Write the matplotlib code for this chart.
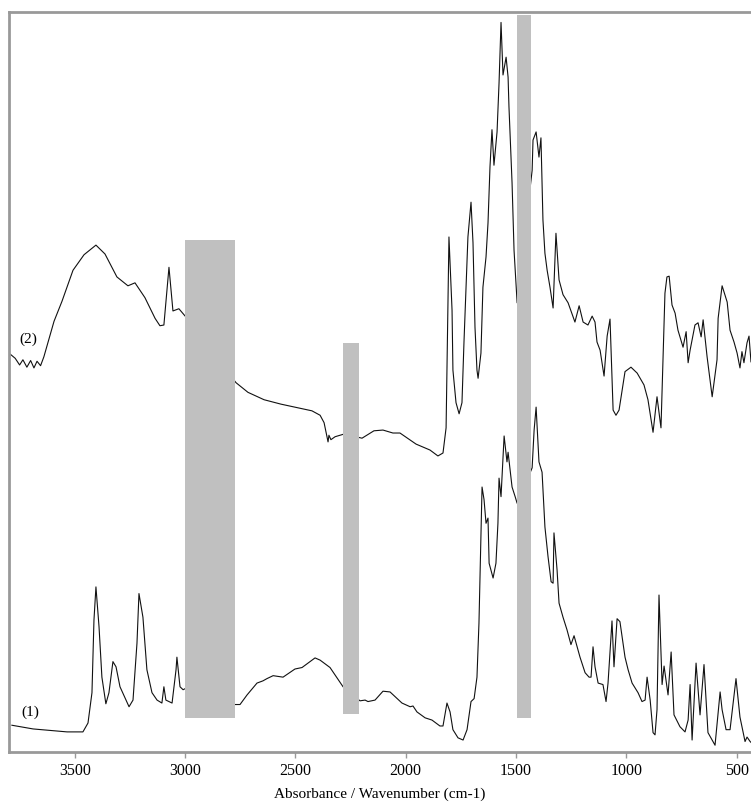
import matplotlib
matplotlib.use("Agg")
import matplotlib.pyplot as plt

# trace (2): wavenumber (cm-1) and absorbance (arbitrary units, axis = 0..100)
wn2 = [3794, 3770, 3750, 3735, 3717, 3700, 3685, 3671, 3655, 3640, 3594, 3558, 3508,
       3458, 3404, 3363, 3309, 3259, 3227,
       3182, 3136, 3114, 3096, 3073, 3055, 3028, 2991, 2880, 2769, 2715, 2642, 2565,
       2502, 2425, 2388, 2370, 2352, 2348, 2339, 2320, 2275, 2240, 2198, 2144, 2103,
       2058, 2026, 1953, 1890, 1854, 1831, 1817, 1813, 1804, 1790, 1786, 1772, 1758,
       1745, 1736, 1718, 1704, 1695, 1686, 1677, 1672, 1659, 1650, 1636, 1627, 1618,
       1609, 1600, 1586, 1577, 1568, 1559, 1545, 1536, 1532, 1518, 1509, 1495, 1460,
       1427, 1423, 1409, 1396, 1387, 1378, 1369, 1359, 1346, 1332, 1319, 1305, 1287,
       1264, 1233, 1214, 1196, 1174, 1155, 1142, 1133, 1119, 1101, 1087, 1074, 1060,
       1047, 1033, 1006, 979, 951, 920, 902, 879, 861, 843, 825, 816, 806, 793, 779,
       766, 743, 729, 720, 711, 689, 675, 661, 652, 634, 611, 589, 584, 566, 543, 530,
       512, 498, 485, 476, 467, 453, 444, 435, 425]
ab2 = [53.8, 53.2, 52.3, 53.0, 52.0, 52.9, 51.9, 52.8, 52.2, 53.4, 58.2, 60.9, 65.1,
       67.2, 68.5, 67.3, 64.2, 63.0, 63.4,
       61.4, 58.6, 57.6, 57.7, 65.5, 59.6, 59.9, 58.6, 54.0, 49.9, 48.6, 47.6, 47.0,
       46.6, 46.1, 45.5, 44.5, 41.9, 42.8, 42.2, 42.6, 43.0, 42.7, 42.4, 43.4, 43.5,
       43.1, 43.1, 41.6, 40.8, 40.0, 40.4, 43.8, 51.6, 69.6, 59.7, 51.6, 47.2, 45.7,
       47.2, 55.3, 69.6, 74.3, 68.8, 57.4, 51.6, 50.5, 53.9, 62.8, 66.9, 71.5, 79.1,
       84.1, 79.3, 83.8, 90.4, 98.6, 91.5, 93.9, 91.2, 87.2, 76.9, 67.8, 60.7, 70.0,
       78.6, 82.7, 83.8, 80.4, 83.0, 71.9, 67.4, 65.1, 62.8, 60.0, 70.1, 63.8, 61.8,
       60.7, 58.1, 60.3, 58.1, 57.7, 58.9, 58.1, 55.4, 54.3, 50.8, 56.2, 58.5, 46.2,
       45.5, 46.2, 51.4, 52.0, 51.2, 49.6, 47.6, 43.2, 48.0, 43.8, 62.0, 64.2, 64.3,
       60.4, 59.3, 57.0, 54.7, 56.8, 52.6, 54.3, 57.7, 58.0, 56.1, 58.4, 53.4, 48.0,
       53.0, 58.6, 63.0, 60.8, 57.0, 55.4, 53.9, 51.9, 54.1, 52.6, 55.3, 56.2, 52.7,
       54.0]

# trace (1)
wn1 = [3785, 3689, 3535, 3463, 3440, 3422, 3413, 3404, 3390, 3377, 3359, 3345, 3327,
       3313, 3295, 3272, 3254, 3236, 3218, 3209, 3191, 3173, 3150, 3127, 3105, 3096,
       3087, 3059, 3041, 3037, 3023, 3009, 2996, 2880, 2774, 2751, 2719, 2674, 2647,
       2629, 2601, 2556, 2502, 2470, 2411, 2388, 2343, 2284, 2245, 2207, 2184, 2171,
       2139, 2103, 2071, 2017, 1980, 1967, 1949, 1912, 1881, 1845, 1831, 1813, 1799,
       1786, 1763, 1740, 1722, 1704, 1690, 1677, 1668, 1659, 1654, 1645, 1636, 1627,
       1622, 1604, 1591, 1582, 1577, 1568, 1559, 1554, 1541, 1536, 1527, 1518, 1504,
       1495, 1460, 1427, 1418, 1409, 1396, 1382, 1369, 1355, 1341, 1332, 1328, 1314,
       1305, 1287, 1269, 1251, 1237, 1223, 1210, 1187, 1169, 1160, 1151, 1142, 1128,
       1106, 1092, 1083, 1065, 1056, 1042, 1029, 1006, 992, 974, 947, 929, 915, 906,
       892, 879, 870, 861, 852, 838, 829, 811, 797, 784, 757, 734, 720, 711, 702, 684,
       666, 648, 630, 598, 575, 566, 548, 530, 503, 485, 462, 453, 439, 425]
ab1 = [3.6, 3.1, 2.7, 2.7, 3.9, 8.0, 17.8, 22.3, 16.9, 10.1, 6.5, 8.0, 12.2,
       11.5, 8.8, 7.3, 6.1, 7.0, 14.7, 21.4, 18.2, 11.1, 8.0, 7.0, 6.6, 8.8,
       7.0, 6.6, 11.1, 12.8, 8.8, 8.4, 8.6, 7.5, 6.4, 6.4, 7.7, 9.3, 9.6,
       9.9, 10.3, 10.1, 11.2, 11.4, 12.7, 12.4, 11.4, 8.8, 7.8, 6.9, 7.0, 6.8,
       7.0, 8.2, 8.1, 6.6, 6.1, 6.2, 5.4, 4.6, 4.3, 3.5, 3.5, 6.6, 5.4,
       3.0, 1.9, 1.6, 3.0, 6.8, 7.2, 10.1, 17.4, 29.6, 35.8, 34.1, 30.9, 31.6,
       25.5, 23.5, 25.5, 30.9, 37.0, 34.5, 39.9, 42.7, 39.2, 40.5, 38.1, 35.8, 34.5,
       33.6, 36.0, 38.4, 43.5, 46.6, 39.2, 37.8, 30.4, 26.4, 23.0, 22.8, 29.6, 24.6,
       20.1, 18.2, 16.5, 14.5, 15.7, 14.2, 12.8, 10.7, 10.1, 10.1, 14.2, 11.5, 9.3,
       9.1, 6.8, 9.3, 17.7, 11.5, 18.0, 17.6, 12.8, 11.1, 9.3, 8.0, 6.8, 7.0, 10.1,
       7.0, 2.6, 2.3, 5.7, 21.2, 9.1, 11.6, 7.7, 13.5, 5.0, 3.4, 2.7, 4.3, 9.1, 1.6, 12.0,
       5.0, 11.8, 2.6, 0.9, 8.1, 5.7, 3.0, 3.0, 9.9, 4.7, 1.4, 2.0, 1.4, 1.0]

# masked regions: (high wn, low wn, bottom, top)
bands = [(3000, 2775, 4.6, 69.2), (2285, 2210, 5.1, 55.3), (1495, 1432, 4.6, 99.6)]

plt.rcParams['font.family'] = ['Liberation Serif', 'DejaVu Serif']

fig = plt.figure(figsize=(7.51, 8.05), dpi=100)
ax = fig.add_axes([0.012, 0.066, 0.988, 0.919])

ax.plot(wn2, ab2, color='#111111', lw=0.8, zorder=2)
ax.plot(wn1, ab1, color='#111111', lw=0.8, zorder=2)

for hi, lo, b, t in bands:
    ax.fill_between([lo, hi], b, t, color='#c0c0c0', lw=0, zorder=3)

ax.text(3750, 55.8, '(2)', fontsize=11, ha='left', va='center')
ax.text(3740, 5.3, '(1)', fontsize=11, ha='left', va='center')

ax.set_xlim(3798, 435)
ax.set_ylim(0, 100)
ax.set_xticks([3500, 3000, 2500, 2000, 1500, 1000, 500])
ax.set_yticks([])
ax.tick_params(axis='x', labelsize=11.5, color='#999999', length=4, width=1, pad=4)
for s in ['top', 'left', 'bottom']:
    ax.spines[s].set_color('#999999')
    ax.spines[s].set_linewidth(2)
ax.spines['right'].set_visible(False)
ax.set_xlabel('Absorbance / Wavenumber (cm-1)', fontsize=11, labelpad=6)

plt.savefig('out.png', dpi=100)
